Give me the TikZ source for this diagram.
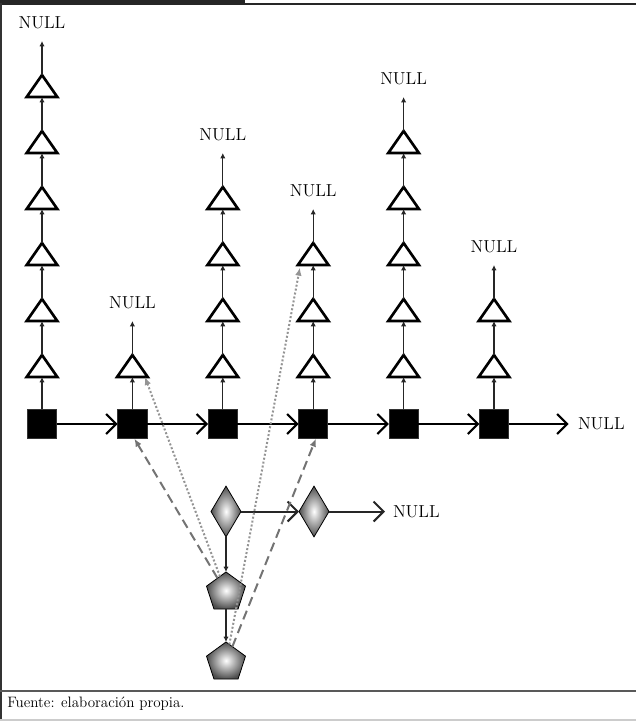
\documentclass[tikz,border=0pt]{standalone}
\usepackage{fontspec}
\usetikzlibrary{arrows.meta,shapes.geometric,calc}
\begin{document}
\begin{tikzpicture}[x=0.75pt,y=-0.75pt,
  sq/.style={fill=black,draw=black!80,line width=0.6pt,minimum size=22pt,inner sep=0,outer sep=0},
  tri/.style={isosceles triangle,isosceles triangle stretches,shape border rotate=90,
    draw=black,line width=2pt,minimum width=23pt,minimum height=16.5pt,inner sep=0,outer sep=0,fill=white},
  vline/.style={draw=black!85,line width=0.9pt,-{Latex[length=4pt,width=4pt]}},
  harrow/.style={draw=black,line width=1.6pt,-{Straight Barb[length=7.5pt,width=15pt]}},
  harrowb/.style={draw=black!85,line width=1.5pt,-{Straight Barb[length=7.5pt,width=15pt]}},
  nulltxt/.style={font=\fontsize{13}{15}\selectfont,inner sep=0,outer sep=0},
  shade/.style={shading=radial,inner color=white,outer color=black!70,draw=black,line width=0.6pt},
  dia/.style={diamond,shade,minimum width=22.5pt,minimum height=38pt,inner sep=0,outer sep=0},
  pent/.style={regular polygon,regular polygon sides=5,shade,minimum size=30.75pt,inner sep=0,outer sep=0},
  gdash/.style={draw=black!55,line width=1.5pt,dash pattern=on 7pt off 4pt,-{Latex[length=6pt,width=5pt]}},
  gdot/.style={draw=black!42,line width=1.5pt,dash pattern=on 1.5pt off 1.5pt,-{Latex[length=6pt,width=5pt]}}
]
\useasboundingbox (0,0) rectangle (636,721);
% frame
\fill[black!85] (0,0) rectangle (245,5);
\draw[black!85,line width=1.5pt] (0,3.5) -- (636,3.5);
\draw[black!80,line width=1.2pt] (1,3) -- (1,720);
\draw[black!65,line width=1.5pt] (0,691) -- (636,691);
\draw[black!20,line width=1pt] (0,720) -- (636,720);
\node[anchor=base west,font=\fontsize{11.3}{13}\selectfont,inner sep=0] (cap) at (7,707) {Fuente: elaboración propia.};

% columns
\foreach \c/\n in {1/6,2/1,3/4,4/3,5/5,6/2}{
  \pgfmathsetmacro\xx{42+90.4*(\c-1)}
  \node[sq] (s\c) at (\xx,424) {};
  \foreach \k [remember=\k as \lk (initially 0)] in {1,...,\n}{
    \pgfmathsetmacro\bb{377-56*(\k-1)}
    \node[tri,anchor=lower side] (t\c-\k) at (\xx,\bb) {};
    \ifnum\k=1
      \draw[vline] (s\c.north) -- (t\c-\k.lower side);
    \else
      \draw[vline] (t\c-\lk.apex) -- (t\c-\k.lower side);
    \fi
  }
  \pgfmathsetmacro\ny{377-56*(\n-1)-25-43}
  \node[nulltxt,anchor=south] (n\c) at (\xx,\ny) {NULL};
  \draw[vline,shorten >=9pt] (t\c-\n.apex) -- (n\c.south);
}
\foreach \a/\b in {1/2,2/3,3/4,4/5,5/6}
  \draw[harrow] (s\a) -- (s\b);
\node[nulltxt,anchor=west] (nr) at (578,424) {NULL};
\draw[harrow,shorten >=7pt] (s6) -- (nr);

% diamonds
\node[dia] (d1) at (226,511.5) {};
\node[dia] (d2) at (314,511.5) {};
\node[nulltxt,anchor=west] (nd) at (393,511.5) {NULL};
\draw[harrowb] (d1) -- (d2);
\draw[harrowb,shorten >=6pt] (d2) -- (nd.west);

% pentagons
\node[pent] (p1) at (226,592.5) {};
\node[pent] (p2) at (226,662.5) {};
\draw[vline] (d1.south) -- (p1.corner 1);
\draw[vline] (p1.south) -- (p2.corner 1);

% gray references
\draw[gdash] (p1) -- ([xshift=1.5pt]s2.south);
\draw[gdot] (p1) -- ([xshift=9.4pt]t2-1.lower side);
\draw[gdot] (p2) -- ([xshift=-10pt,yshift=-2pt]t4-3.lower side);
\draw[gdash] (p2) -- ([xshift=2pt]s4.south);
\end{tikzpicture}
\end{document}
